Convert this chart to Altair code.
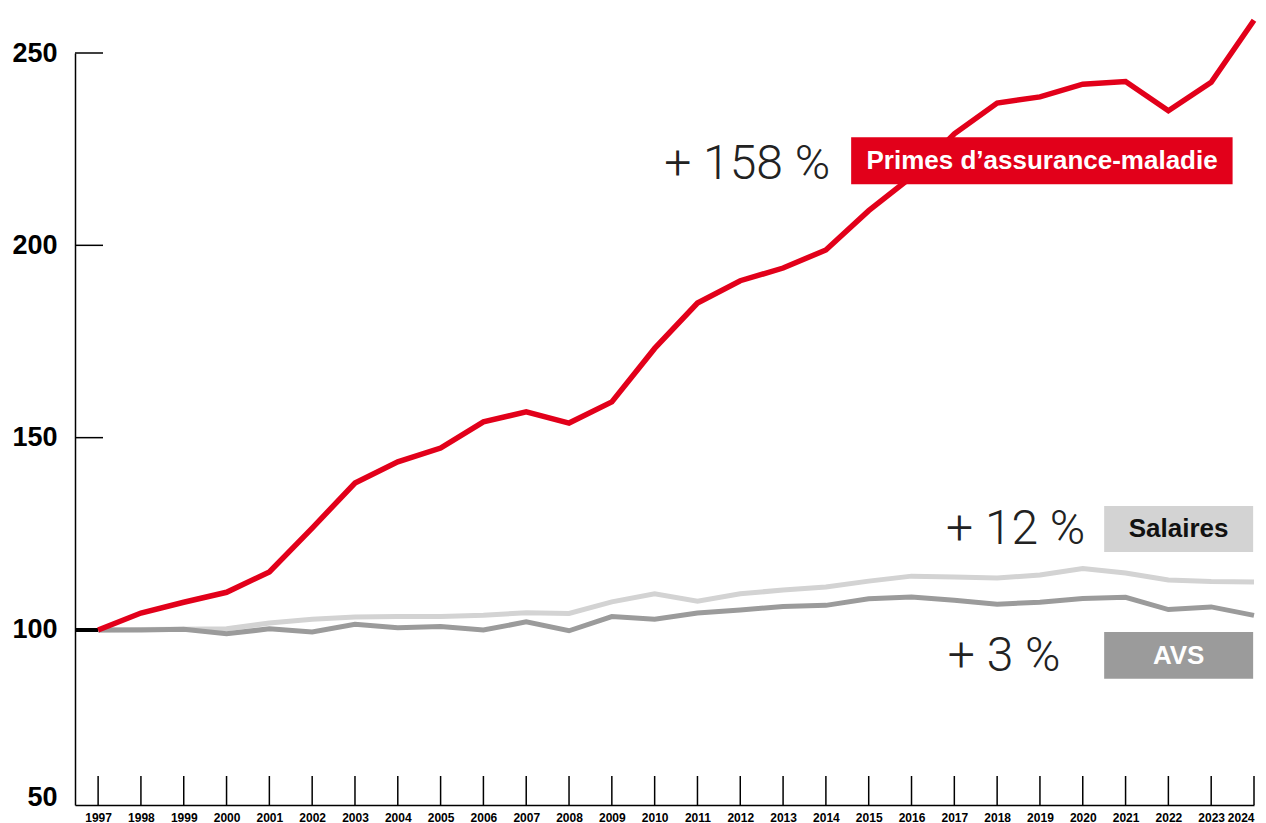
import altair as alt
import pandas as pd

# ---------------- data ----------------
years = list(range(1997, 2025))
primes = [100, 104.4, 107.2, 109.8, 115.1, 126.5, 138.2, 143.7, 147.3, 154.1,
          156.7, 153.8, 159.3, 173.2, 185.0, 190.8, 194.1, 198.8, 209.0, 217.8,
          229.0, 237.0, 238.6, 241.9, 242.6, 235.0, 242.4, 258.5]
salaires = [100, 100.1, 100.2, 100.3, 101.8, 102.8, 103.4, 103.5, 103.5, 103.8,
            104.5, 104.3, 107.3, 109.4, 107.5, 109.4, 110.4, 111.2, 112.7, 114.0,
            113.8, 113.5, 114.3, 116.0, 114.8, 113.0, 112.6, 112.5]
avs = [100, 100, 100.2, 99.0, 100.3, 99.5, 101.5, 100.6, 100.9, 100.0,
       102.1, 99.8, 103.5, 102.8, 104.4, 105.2, 106.1, 106.4, 108.1, 108.6,
       107.7, 106.7, 107.2, 108.2, 108.5, 105.3, 106.0, 103.8]

y_tick_labels = ["50", "100", "150", "200", "250"]
y_tick_values = [50, 100, 150, 200, 250]

series_names = ["Primes d\u2019assurance-maladie", "Salaires", "AVS"]
series_pct = ["+ 158 %", "+ 12 %", "+ 3 %"]

# ---------------- styling ----------------
W, H = 1179, 752
Y_MIN, Y_MAX = 54.5, 250
X_MIN, X_MAX = 1996.46, 2024
RED = "#e2001a"
LIGHT = "#d3d3d3"
DARK = "#9b9b9b"
FONT = "Liberation Sans"

df = pd.DataFrame({"year": years, "primes": primes, "salaires": salaires, "avs": avs})
ydf = pd.DataFrame({"v": y_tick_values})

xs = alt.Scale(domain=[X_MIN, X_MAX], nice=False, zero=False)
ys = alt.Scale(domain=[Y_MIN, Y_MAX], nice=False, zero=False)

axis_vals = [max(v, Y_MIN) for v in y_tick_values]
label_expr = " : ".join(
    [f"datum.value == {av} ? '{lab}'" for av, lab in zip(axis_vals, y_tick_labels)]
) + " : ''"

x_axis = alt.Axis(values=years, format="d", title=None, ticks=False, grid=False,
                  domainColor="black", domainWidth=1.5, labelFont=FONT,
                  labelFontWeight="bold", labelFontSize=12, labelColor="black",
                  labelPadding=7, labelBaseline="top", labelFlush=True,
                  labelOverlap=False)
y_axis = alt.Axis(values=axis_vals, labelExpr=label_expr, title=None, ticks=False,
                  grid=False, domainColor="black", domainWidth=1.5, labelFont=FONT,
                  labelFontWeight="bold", labelFontSize=27, labelColor="black",
                  labelPadding=18, labelAlign="right",
                  labelBaseline={"condition": {"test": f"datum.value <= {Y_MIN}",
                                               "value": "alphabetic"},
                                 "value": "middle"})

base = alt.Chart(df)

# axes carrier (invisible points)
axes = base.mark_point(opacity=0).encode(
    x=alt.X("year:Q", scale=xs, axis=x_axis),
    y=alt.Y("primes:Q", scale=ys, axis=y_axis),
)

x_ticks = base.mark_rule(color="black", strokeWidth=1.5).encode(
    x=alt.X("year:Q", scale=xs),
    y=alt.value(H),
    y2=alt.value(H - 29),
)

y_ticks = alt.Chart(ydf).transform_filter("datum.v > 100").mark_rule(
    color="black", strokeWidth=1.5).encode(
    y=alt.Y("v:Q", scale=ys),
    x=alt.value(0),
    x2=alt.value(28),
)
y_tick100 = alt.Chart(ydf).transform_filter("datum.v == 100").mark_rule(
    color="black", strokeWidth=4).encode(
    y=alt.Y("v:Q", scale=ys),
    x=alt.value(0),
    x2=alt.value(23),
)

def line(field, color, w):
    return base.mark_line(color=color, strokeWidth=w, strokeJoin="miter",
                          strokeCap="butt").encode(
        x=alt.X("year:Q", scale=xs),
        y=alt.Y(f"{field}:Q", scale=ys),
    )

l_sal = line("salaires", LIGHT, 5)
l_avs = line("avs", DARK, 5)
l_pri = line("primes", RED, 5.5)

one = alt.Chart(pd.DataFrame({"k": [0]}))

def box(x1, x2, y1, y2, color):
    return one.mark_rect(color=color).encode(
        x=alt.datum(x1, scale=xs), x2=alt.datum(x2),
        y=alt.datum(y1, scale=ys), y2=alt.datum(y2),
    )

def txt(text, x, y, color, size, weight, font, align):
    return one.mark_text(text=text, color=color, fontSize=size, fontWeight=weight,
                         font=font, align=align, baseline="middle").encode(
        x=alt.datum(x, scale=xs), y=alt.datum(y, scale=ys))

PCT_FONT = "Roboto"
ann = [
    box(2014.59, 2023.5, 228.1, 215.9, RED),
    txt(series_names[0], 2019.05, 222.0, "white", 26, "bold", FONT, "center"),
    txt(series_pct[0], 2014.1, 220.9, "#222222", 48, 300, PCT_FONT, "right"),
    box(2020.5, 2023.98, 132.2, 120.3, LIGHT),
    txt(series_names[1], 2022.24, 126.2, "#111111", 26, "bold", FONT, "center"),
    txt(series_pct[1], 2020.06, 126.0, "#222222", 48, 300, PCT_FONT, "right"),
    box(2020.5, 2023.98, 99.5, 87.3, DARK),
    txt(series_names[2], 2022.24, 93.3, "white", 26, "bold", FONT, "center"),
    txt(series_pct[2], 2019.48, 93.0, "#222222", 48, 300, PCT_FONT, "right"),
]

chart = alt.layer(
    axes, x_ticks, y_ticks, y_tick100, l_sal, l_avs, l_pri, *ann
).properties(
    width=W, height=H,
    autosize=alt.AutoSizeParams(type="none"),
    padding={"left": 67, "top": 45, "right": 4, "bottom": 18},
    background="white",
).configure_view(stroke=None)

chart.save("out.html", embed_options={"renderer": "svg", "actions": False})
